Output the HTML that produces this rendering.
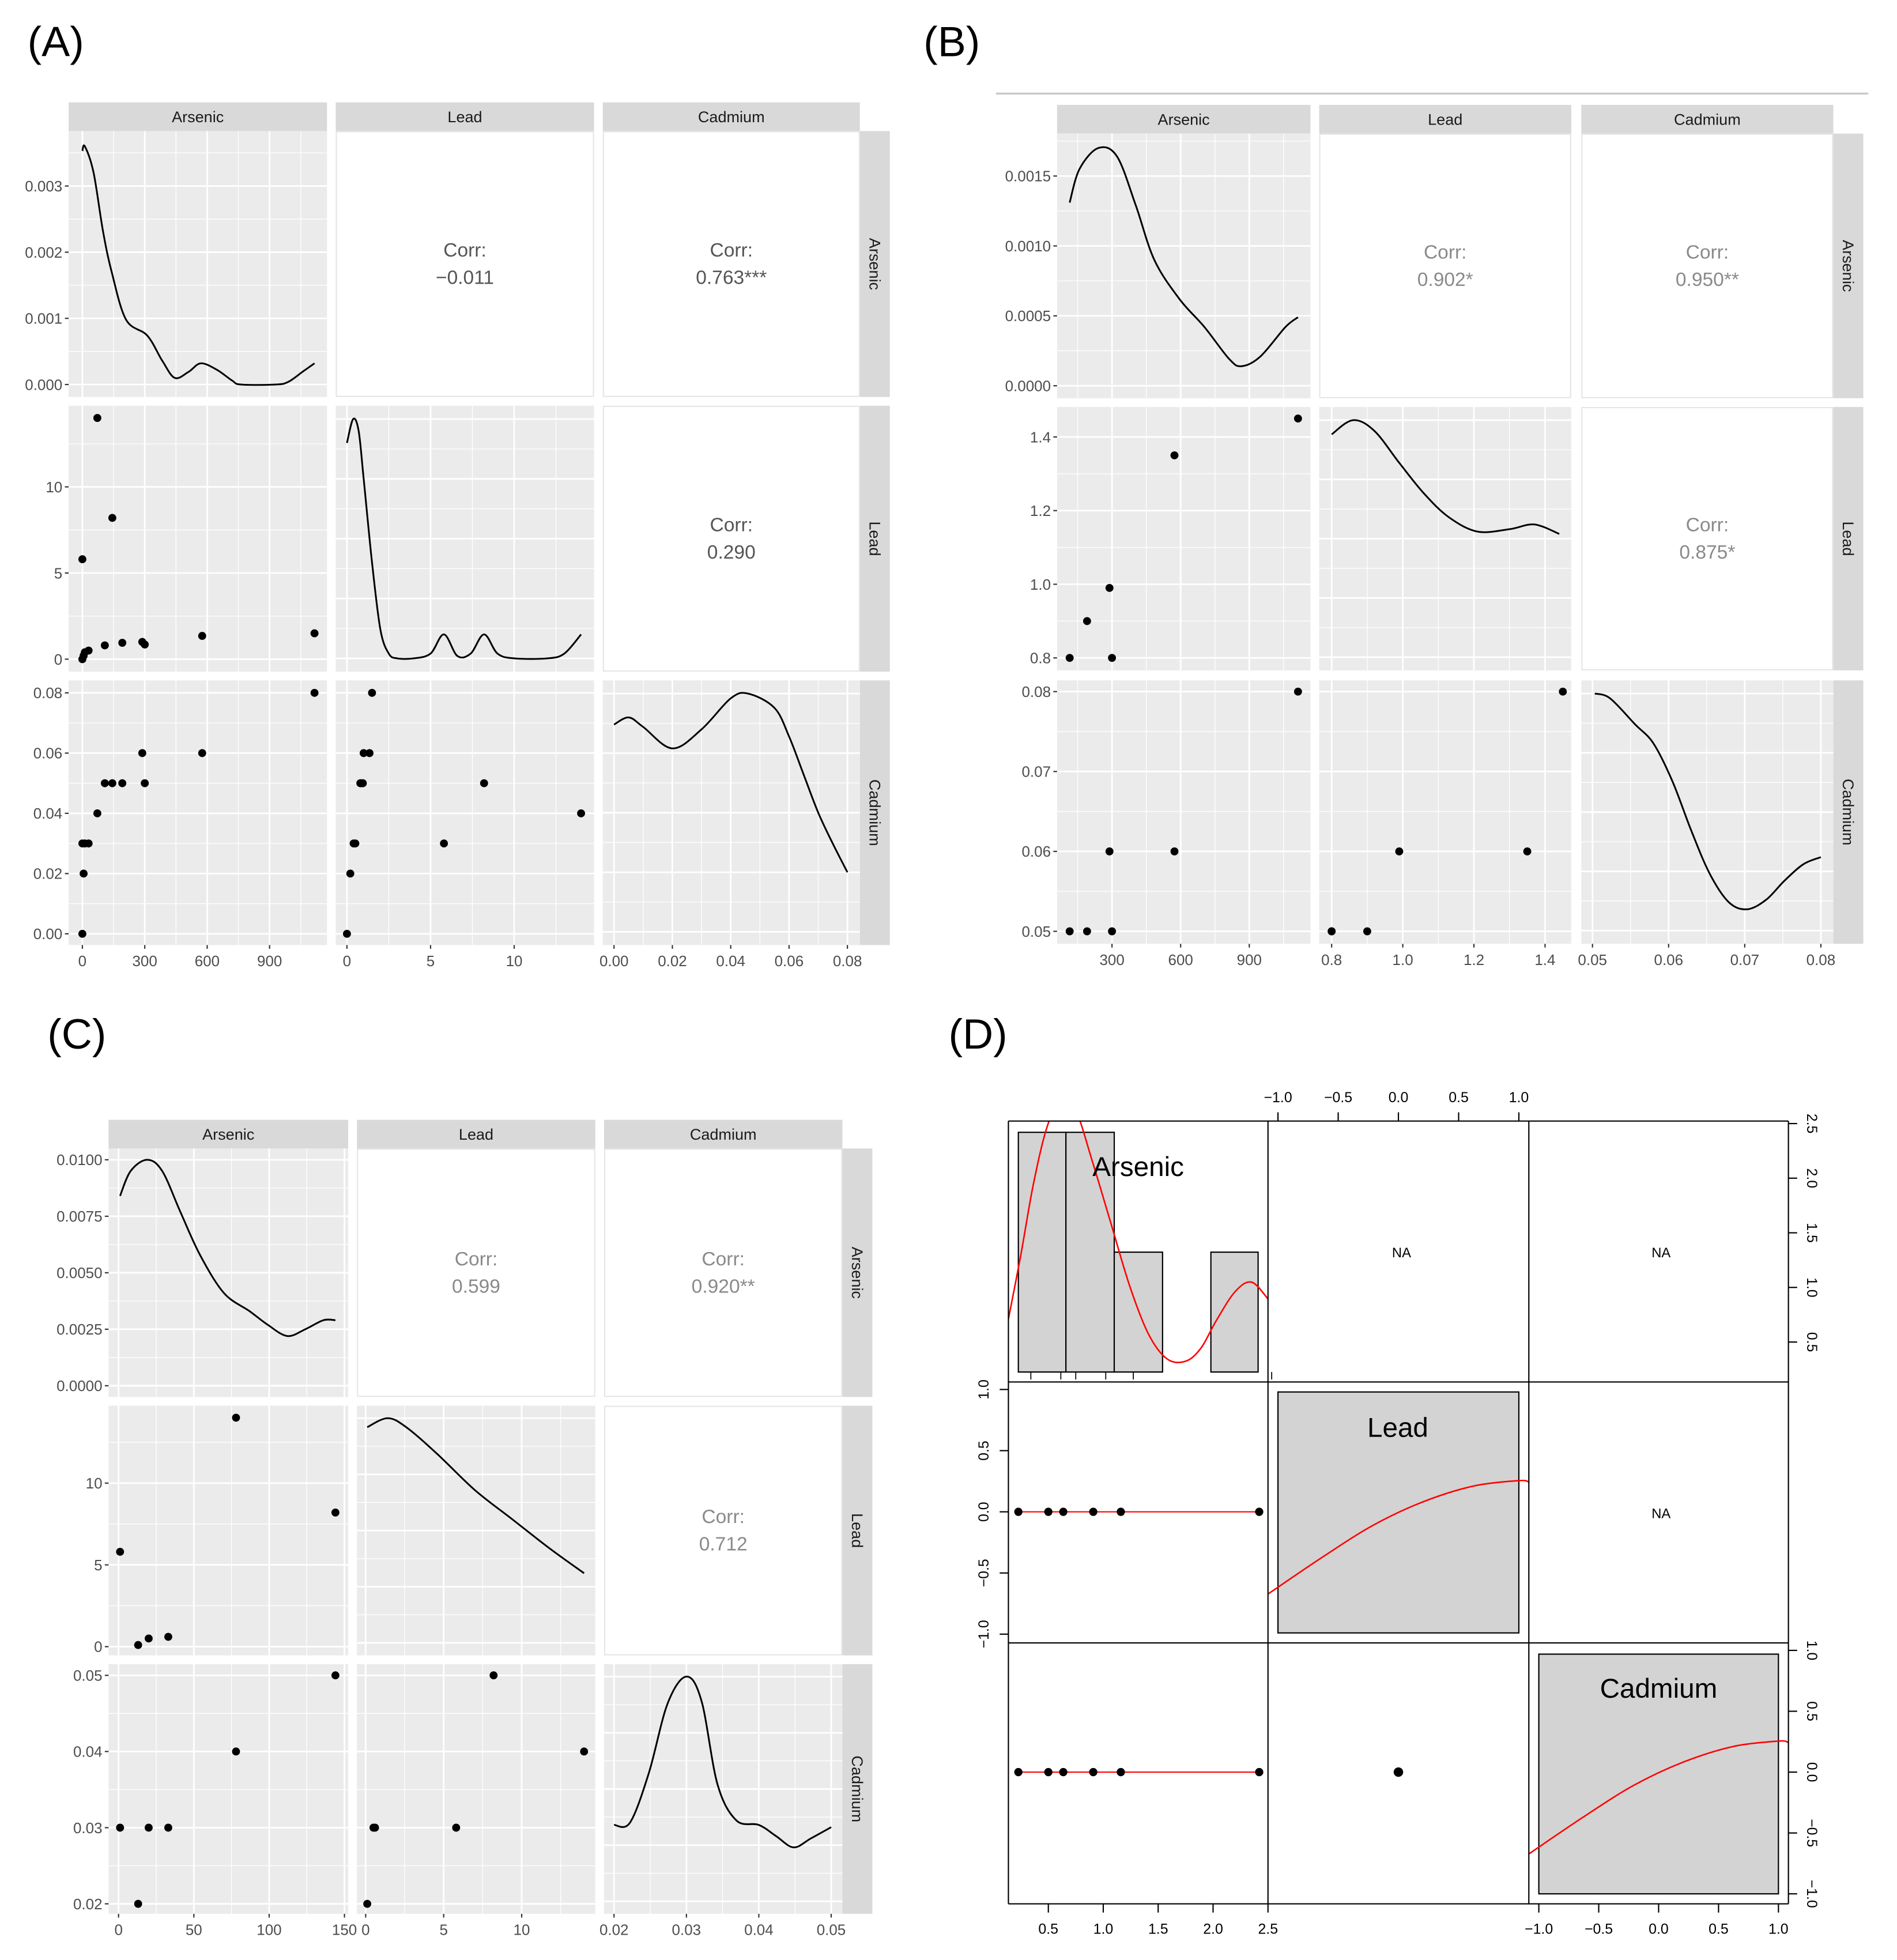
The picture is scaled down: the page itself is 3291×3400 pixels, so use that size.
<!DOCTYPE html>
<html><head><meta charset="utf-8">
<style>
html,body{margin:0;padding:0;background:#fff;}
svg{display:block;font-family:"Liberation Sans",Arial,sans-serif;}
</style></head>
<body>
<svg id="fig" xmlns="http://www.w3.org/2000/svg" width="3291" height="3400" viewBox="0 0 1520 1570" preserveAspectRatio="none">
<rect x="0" y="0" width="1520" height="1570" fill="#fff"/>
<text x="22" y="45" font-size="34">(A)</text>
<text x="740" y="45" font-size="34">(B)</text>
<text x="38" y="840" font-size="34">(C)</text>
<text x="760" y="840" font-size="34">(D)</text>
<line x1="798" y1="75" x2="1497" y2="75" stroke="#c8c8c8" stroke-width="1.5"/>
</svg>
<script>
// ---------- DATA ----------
const varNames = ["Arsenic","Lead","Cadmium"];
// Panel A
const A_arsenic = [72,144,0,0,1116,576,288,300,192,108,6,30,12];
const A_lead    = [14,8.2,5.8,0,1.5,1.35,1.0,0.85,0.95,0.8,0.2,0.5,0.4];
const A_cadmium = [0.04,0.05,0.03,0.0,0.08,0.06,0.06,0.05,0.05,0.05,0.02,0.03,0.03];
const A_densAs_x = [0,12,54,99,141,210,312,384,444,510,570,648,720,762,930,990,1062,1116];
const A_densAs_y = [0.00353,0.0036,0.0032,0.00232,0.0017,0.00098,0.00074,0.00036,0.0001,0.00019,0.00032,0.00022,0.00006,0,0,0.00004,0.0002,0.00032];
const A_densPb_x = [0,0.37,0.7,1,1.5,2,2.5,3,4,5,5.8,6.6,7.4,8.2,9,10,12,13,14];
const A_densPb_y = [0.9,1.0,0.95,0.75,0.4,0.12,0.02,0,0,0.02,0.1,0.01,0.02,0.1,0.02,0,0,0.02,0.1];
const A_densCd_x = [0,0.005,0.01,0.02,0.03,0.04,0.046,0.055,0.06,0.065,0.07,0.075,0.08];
const A_densCd_y = [0.87,0.9,0.86,0.77,0.85,0.98,1.0,0.94,0.82,0.66,0.5,0.37,0.25];
const A_corr = ["-0.011","0.763***","0.290"];
// Panel B
const B_arsenic = [115,191,289,300,573,1113];
const B_lead    = [0.8,0.9,0.99,0.8,1.35,1.45];
const B_cadmium = [0.05,0.05,0.06,0.05,0.06,0.08];
const B_densAs_x = [115,158,240,322,404,485,595,704,813,867,949,1058,1113];
const B_densAs_y = [0.00131,0.00155,0.0017,0.00164,0.00129,0.0009,0.00062,0.00042,0.00019,0.00014,0.00021,0.00042,0.00049];
const B_densPb_x = [0.8,0.86,0.92,0.99,1.06,1.13,1.21,1.30,1.37,1.44];
const B_densPb_y = [0.94,1.0,0.955,0.82,0.69,0.59,0.53,0.54,0.56,0.52];
const B_densCd_x = [0.0503,0.0523,0.0556,0.058,0.0605,0.063,0.0654,0.0679,0.0703,0.0728,0.0752,0.0777,0.08];
const B_densCd_y = [1.0,0.98,0.87,0.79,0.63,0.42,0.24,0.12,0.09,0.13,0.21,0.28,0.31];
const B_corr = ["0.902*","0.950**","0.875*"];
// Panel C
const C_arsenic = [1,13,20,33,78,144];
const C_lead    = [5.8,0.1,0.5,0.6,14,8.2];
const C_cadmium = [0.03,0.02,0.03,0.03,0.04,0.05];
const C_densAs_x = [1,8,19,29,41,54,70,87,99,112,124,136,144];
const C_densAs_y = [0.0084,0.0095,0.0100,0.0095,0.0077,0.0058,0.0041,0.0033,0.0027,0.0022,0.0025,0.0029,0.0029];
const C_densPb_x = [0.1,1.4,2.6,4.6,7,9.4,11.8,14];
const C_densPb_y = [0.96,1.0,0.96,0.84,0.68,0.55,0.42,0.31];
const C_densCd_x = [0.02,0.0222,0.0248,0.0274,0.03,0.0321,0.0343,0.0369,0.04,0.0424,0.0448,0.0472,0.05];
const C_densCd_y = [0.34,0.35,0.57,0.88,1.0,0.89,0.52,0.36,0.34,0.29,0.24,0.28,0.33];
const C_corr = ["0.599","0.920**","0.712"];
// Panel D
const D_arsenic = [0.227,0.5,0.636,0.909,1.16,2.42];
const D_zero = [0,0,0,0,0,0];
const D_histBreaks = [0.227,0.66,1.1,1.54,1.98,2.41];
const D_histCounts = [2,2,1,0,1];
const D_densX = [0.136,0.25,0.36,0.48,0.61,0.75,0.90,1.07,1.24,1.41,1.58,1.75,1.89,2.03,2.2,2.35,2.5];
const D_densY = [0.44,0.98,1.55,2.02,2.28,2.18,1.76,1.24,0.72,0.32,0.11,0.09,0.2,0.43,0.67,0.75,0.61];
const D_leadCurveX = [-1.08,-0.63,-0.21,0.2,0.62,1.0,1.08];
const D_leadCurveY = [-0.67,-0.37,-0.11,0.08,0.21,0.255,0.245];
const D_cdCurveX = [-1.08,-0.63,-0.21,0.2,0.62,1.0,1.08];
const D_cdCurveY = [-0.67,-0.37,-0.11,0.08,0.21,0.255,0.245];
const D_cellTicks = ["-1.0","-0.5","0.0","0.5","1.0"];
const D_cellTickVals = [-1,-0.5,0,0.5,1];
const D_asTickVals = [0.5,1,1.5,2,2.5];
const D_asTicks = ["0.5","1.0","1.5","2.0","2.5"];

// ---------- HELPERS ----------
const NS = "http://www.w3.org/2000/svg";
const svg = document.getElementById("fig");
function mk(tag, attrs, parent){ const e=document.createElementNS(NS,tag); for(const k in attrs) e.setAttribute(k, attrs[k]); (parent||svg).appendChild(e); return e; }
function lin(d0,p0,d1,p1){ const s=(p1-p0)/(d1-d0); const f=v=>p0+(v-d0)*s; f.inv=p=>d0+(p-p0)/s; return f; }
function pathFrom(xs, ys, fx, fy){ let d=""; for(let i=0;i<xs.length;i++){ d+=(i?"L":"M")+fx(xs[i]).toFixed(2)+","+fy(ys[i]).toFixed(2); } return d; }
function smoothPath(xs, ys, fx, fy){
  const P=xs.map((x,i)=>[fx(x),fy(ys[i])]);
  let d="M"+P[0][0].toFixed(2)+","+P[0][1].toFixed(2);
  for(let i=0;i<P.length-1;i++){
    const p0=P[i-1]||P[i], p1=P[i], p2=P[i+1], p3=P[i+2]||P[i+1];
    const c1=[p1[0]+(p2[0]-p0[0])/6, p1[1]+(p2[1]-p0[1])/6];
    const c2=[p2[0]-(p3[0]-p1[0])/6, p2[1]-(p3[1]-p1[1])/6];
    d+="C"+c1[0].toFixed(2)+","+c1[1].toFixed(2)+" "+c2[0].toFixed(2)+","+c2[1].toFixed(2)+" "+p2[0].toFixed(2)+","+p2[1].toFixed(2);
  }
  return d;
}

function drawGG(cfg){
  const g = mk("g",{});
  
  
  const n=3;
  // strips top
  for(let j=0;j<n;j++){
    const [x0,x1]=cfg.cols[j];
    const r=mk("rect",{x:x0,y:cfg.rows[0][0]-23,width:x1-x0,height:23,fill:"#d9d9d9"},g);
    
    
    const t=mk("text",{x:(x0+x1)/2,y:cfg.rows[0][0]-7,"font-size":12.5,"text-anchor":"middle",fill:"#1a1a1a"},g);
    t.textContent=varNames[j];
    
    
  }
  const xr=cfg.cols[2][1];
  for(let i=0;i<n;i++){
    const [y0,y1]=cfg.rows[i];
    const r=mk("rect",{x:xr,y:y0,width:24,height:y1-y0,fill:"#d9d9d9"},g);
    
    
    const cx=xr+12, cy=(y0+y1)/2;
    const t=mk("text",{x:cx,y:cy,"font-size":12.5,"text-anchor":"middle",fill:"#1a1a1a",transform:`rotate(90 ${cx} ${cy})`,dy:"0.35em"},g);
    t.textContent=varNames[i];
    
    
  }
  for(let i=0;i<n;i++){
    for(let j=0;j<n;j++){
      const [x0,x1]=cfg.cols[j], [y0,y1]=cfg.rows[i];
      const pg=mk("g",{},g);
      
      
      if(j>i){
        mk("rect",{x:x0+0.5,y:y0+0.5,width:x1-x0-1,height:y1-y0-1,fill:"#fff",stroke:"#e6e6e6","stroke-width":1},pg);
        const k = (i===0&&j===1)?0:(i===0?1:2);
        const cx=(x0+x1)/2, cy=(y0+y1)/2;
        const t1=mk("text",{x:cx,y:cy-6,"font-size":15.5,"text-anchor":"middle",fill:cfg.corrColor},pg);
        t1.textContent="Corr:";
        
        
        const t2=mk("text",{x:cx,y:cy+16,"font-size":15.5,"text-anchor":"middle",fill:cfg.corrColor},pg);
        t2.textContent=cfg.corr[k].replace("-","\u2212");
        
        
        continue;
      }
      mk("rect",{x:x0,y:y0,width:x1-x0,height:y1-y0,fill:"#ebebeb"},pg);
      const fx=cfg.xs[j];
      const fy = (i===j && i>0) ? lin(0,y1-0.05*(y1-y0),1,y0+0.05*(y1-y0)) : cfg.ys[i];
      const xt=cfg.xt[j];
      const yt=(i===j && i>0) ? [0,0.25,0.5,0.75,1] : cfg.yt[i];
      // grid
      const gridV=(ticks, minor)=>{
        const step=ticks[1]-ticks[0];
        const lo=fx.inv(x0), hi=fx.inv(x1);
        for(let v=ticks[0]-step*6; v<=hi+1e-9; v+=step/2){
          if(v<lo) continue;
          const isMajor=Math.abs(((v-ticks[0])/step)-Math.round((v-ticks[0])/step))<1e-6;
          mk("line",{x1:fx(v),x2:fx(v),y1:y0,y2:y1,stroke:"#fff","stroke-width":isMajor?1.3:0.6},pg);
        }
      };
      const gridH=(ticks)=>{
        const step=ticks[1]-ticks[0];
        const lo=Math.min(fy.inv(y0),fy.inv(y1)), hi=Math.max(fy.inv(y0),fy.inv(y1));
        for(let v=ticks[0]-step*6; v<=hi+1e-9; v+=step/2){
          if(v<lo) continue;
          const isMajor=Math.abs(((v-ticks[0])/step)-Math.round((v-ticks[0])/step))<1e-6;
          mk("line",{x1:x0,x2:x1,y1:fy(v),y2:fy(v),stroke:"#fff","stroke-width":isMajor?1.3:0.6},pg);
        }
      };
      gridV(xt); gridH(yt);
      if(i===j){
        const D=cfg.dens[i];
        const p=mk("path",{d:smoothPath(D[0],D[1],fx,fy),fill:"none",stroke:"#000","stroke-width":1.4},pg);
        
        
      } else {
        const X=cfg.data[j], Y=cfg.data[i];
        for(let k=0;k<X.length;k++){
          const c=mk("circle",{cx:fx(X[k]),cy:fy(Y[k]),r:3.2,fill:"#000"},pg);
          
          
        }
      }
    }
  }
  // left axis
  for(let i=0;i<n;i++){
    const fy=cfg.ys[i], x0=cfg.cols[0][0];
    cfg.yt[i].forEach((v,k)=>{
      mk("line",{x1:x0-3,x2:x0,y1:fy(v),y2:fy(v),stroke:"#333","stroke-width":1},g);
      const t=mk("text",{x:x0-5,y:fy(v)+4.3,"font-size":12,"text-anchor":"end",fill:"#4d4d4d"},g);
      t.textContent=cfg.yl[i][k];
      
      
    });
  }
  // bottom axis
  const yb=cfg.rows[2][1];
  for(let j=0;j<n;j++){
    const fx=cfg.xs[j];
    cfg.xt[j].forEach((v,k)=>{
      mk("line",{x1:fx(v),x2:fx(v),y1:yb,y2:yb+3,stroke:"#333","stroke-width":1},g);
      const t=mk("text",{x:fx(v),y:yb+17,"font-size":12,"text-anchor":"middle",fill:"#4d4d4d"},g);
      t.textContent=cfg.xl[j][k];
      
      
    });
  }
}

// ---------- PANEL A ----------
drawGG({
  name:"panel-a",
  cols:[[55,262],[269,476],[483,689]], rows:[[105,318],[325,538],[545,757]],
  xs:[lin(0,66,900,216), lin(0,278,10,412), lin(0,492,0.08,679)],
  xt:[[0,300,600,900],[0,5,10],[0,0.02,0.04,0.06,0.08]],
  xl:[["0","300","600","900"],["0","5","10"],["0.00","0.02","0.04","0.06","0.08"]],
  ys:[lin(0,308,0.003,149), lin(0,528,10,390), lin(0,748,0.08,555)],
  yt:[[0,0.001,0.002,0.003],[0,5,10],[0,0.02,0.04,0.06,0.08]],
  yl:[["0.000","0.001","0.002","0.003"],["0","5","10"],["0.00","0.02","0.04","0.06","0.08"]],
  data:[A_arsenic,A_lead,A_cadmium],
  dens:[[A_densAs_x,A_densAs_y],[A_densPb_x,A_densPb_y],[A_densCd_x,A_densCd_y]],
  corr:A_corr, corrColor:"#555"
});
// ---------- PANEL B ----------
drawGG({
  name:"panel-b",
  cols:[[847,1050],[1057,1259],[1267,1469]], rows:[[107,319],[326,537],[545,756]],
  xs:[lin(300,891,900,1001), lin(0.8,1067,1.4,1238), lin(0.05,1276,0.08,1459)],
  xt:[[300,600,900],[0.8,1.0,1.2,1.4],[0.05,0.06,0.07,0.08]],
  xl:[["300","600","900"],["0.8","1.0","1.2","1.4"],["0.05","0.06","0.07","0.08"]],
  ys:[lin(0,309,0.0015,141), lin(0.8,527,1.4,350), lin(0.05,746,0.08,554)],
  yt:[[0,0.0005,0.001,0.0015],[0.8,1.0,1.2,1.4],[0.05,0.06,0.07,0.08]],
  yl:[["0.0000","0.0005","0.0010","0.0015"],["0.8","1.0","1.2","1.4"],["0.05","0.06","0.07","0.08"]],
  data:[B_arsenic,B_lead,B_cadmium],
  dens:[[B_densAs_x,B_densAs_y],[B_densPb_x,B_densPb_y],[B_densCd_x,B_densCd_y]],
  corr:B_corr, corrColor:"#8a8a8a"
});
// ---------- PANEL C ----------
drawGG({
  name:"panel-c",
  cols:[[87,279],[286,477],[484,675]], rows:[[920,1119],[1126,1326],[1333,1533]],
  xs:[lin(0,95,150,276), lin(0,293,10,418), lin(0.02,492,0.05,666)],
  xt:[[0,50,100,150],[0,5,10],[0.02,0.03,0.04,0.05]],
  xl:[["0","50","100","150"],["0","5","10"],["0.02","0.03","0.04","0.05"]],
  ys:[lin(0,1110,0.01,929), lin(0,1319,10,1188), lin(0.02,1525,0.05,1342)],
  yt:[[0,0.0025,0.005,0.0075,0.01],[0,5,10],[0.02,0.03,0.04,0.05]],
  yl:[["0.0000","0.0025","0.0050","0.0075","0.0100"],["0","5","10"],["0.02","0.03","0.04","0.05"]],
  data:[C_arsenic,C_lead,C_cadmium],
  dens:[[C_densAs_x,C_densAs_y],[C_densPb_x,C_densPb_y],[C_densCd_x,C_densCd_y]],
  corr:C_corr, corrColor:"#8a8a8a"
});

// ---------- PANEL D ----------
(function(){
  const g=mk("g",{});
  
  
  const cx=[808,1016,1225,1433], cy=[898,1107,1316,1525];
  const fxAs=lin(0.5,840,2.5,1016);
  const fxC=[null, lin(-1,1024,1,1217), lin(-1,1233,1,1425)];
  const fyR=[null, lin(-1,1309,1,1113), lin(-1,1517,1,1322)];
  const fyHist=lin(0,1099,2,907);
  const clip=mk("clipPath",{id:"c11"},g); mk("rect",{x:808,y:898,width:208,height:209},clip);
  // histogram
  for(let k=0;k<D_histCounts.length;k++){
    if(D_histCounts[k]===0) continue;
    const x0=fxAs(D_histBreaks[k]), x1=fxAs(D_histBreaks[k+1]);
    const r=mk("rect",{x:x0,y:fyHist(D_histCounts[k]),width:x1-x0,height:fyHist(0)-fyHist(D_histCounts[k]),fill:"#d3d3d3",stroke:"#000","stroke-width":1},g);
    
    
  }
  // rug
  D_arsenic.forEach(v=>{ mk("line",{x1:fxAs(v)+10,x2:fxAs(v)+10,y1:1099,y2:1105,stroke:"#000","stroke-width":0.8},g); });
  const dp=mk("path",{d:smoothPath(D_densX,D_densY,fxAs,fyHist),fill:"none",stroke:"#ff0000","stroke-width":1.2,"clip-path":"url(#c11)"},g);
  
  
  const t1=mk("text",{x:912,y:942,"font-size":22,"text-anchor":"middle"},g); t1.textContent="Arsenic";
  
  
  // lead box
  const b2=mk("rect",{x:1024,y:1115,width:193,height:193,fill:"#d3d3d3",stroke:"#000","stroke-width":1},g);
  
  
  const lp=mk("path",{d:smoothPath(D_leadCurveX,D_leadCurveY,fxC[1],fyR[1]),fill:"none",stroke:"#ff0000","stroke-width":1.2},g);
  
  
  const t2=mk("text",{x:1120,y:1151,"font-size":22,"text-anchor":"middle"},g); t2.textContent="Lead";
  
  
  // cadmium box
  const b3=mk("rect",{x:1233,y:1325,width:192,height:192,fill:"#d3d3d3",stroke:"#000","stroke-width":1},g);
  
  
  const cp=mk("path",{d:smoothPath(D_cdCurveX,D_cdCurveY,fxC[2],fyR[2]),fill:"none",stroke:"#ff0000","stroke-width":1.2},g);
  
  
  const t3=mk("text",{x:1329,y:1360,"font-size":22,"text-anchor":"middle"},g); t3.textContent="Cadmium";
  
  
  // NA labels
  [[1123,1003],[1331,1003],[1331,1212]].forEach(p=>{
    const t=mk("text",{x:p[0],y:p[1]+4,"font-size":11,"text-anchor":"middle"},g); t.textContent="NA";
    
    
  });
  // scatter rows
  [[fyR[1],D_zero],[fyR[2],D_zero]].forEach((row)=>{
    const fy=row[0];
    const xsP=D_arsenic.map(fxAs);
    const ln=mk("line",{x1:Math.min(...xsP),x2:Math.max(...xsP),y1:fy(0),y2:fy(0),stroke:"#ff0000","stroke-width":1},g);
    
    
    D_arsenic.forEach((v,k)=>{
      const c=mk("circle",{cx:fxAs(v),cy:fy(row[1][k]),r:3.3,fill:"#000"},g);
      
      
    });
  });
  const cc=mk("circle",{cx:fxC[1](0),cy:fyR[2](0),r:3.8,fill:"#000"},g);
  
  
  // grid lines
  for(let k=0;k<4;k++){
    mk("line",{x1:cx[k],x2:cx[k],y1:898,y2:1525,stroke:"#000","stroke-width":1},g);
    mk("line",{x1:808,x2:1433,y1:cy[k],y2:cy[k],stroke:"#000","stroke-width":1},g);
  }
  // top axis (col2)
  D_cellTickVals.forEach((v,k)=>{
    mk("line",{x1:fxC[1](v),x2:fxC[1](v),y1:891,y2:898,stroke:"#000"},g);
    const t=mk("text",{x:fxC[1](v),y:883,"font-size":11.5,"text-anchor":"middle"},g); t.textContent=D_cellTicks[k].replace("-","\u2212");
    
    
  });
  // bottom axis col1
  D_asTickVals.forEach((v,k)=>{
    mk("line",{x1:fxAs(v),x2:fxAs(v),y1:1525,y2:1532,stroke:"#000"},g);
    const t=mk("text",{x:fxAs(v),y:1549,"font-size":11.5,"text-anchor":"middle"},g); t.textContent=D_asTicks[k];
    
    
  });
  // bottom axis col3
  D_cellTickVals.forEach((v,k)=>{
    mk("line",{x1:fxC[2](v),x2:fxC[2](v),y1:1525,y2:1532,stroke:"#000"},g);
    const t=mk("text",{x:fxC[2](v),y:1549,"font-size":11.5,"text-anchor":"middle"},g); t.textContent=D_cellTicks[k].replace("-","\u2212");
    
    
  });
  // right axis row1 (hist scale)
  const fyRight1=lin(0.5,1075,2.5,900);
  D_asTickVals.forEach((v,k)=>{
    const y=fyRight1(v);
    mk("line",{x1:1433,x2:1440,y1:y,y2:y,stroke:"#000"},g);
    const t=mk("text",{x:1452,y:y,"font-size":11.5,"text-anchor":"middle",transform:`rotate(90 1452 ${y})`,dy:"0.35em"},g); t.textContent=D_asTicks[k];
    
    
  });
  // left axis row2
  D_cellTickVals.forEach((v,k)=>{
    const y=fyR[1](v);
    mk("line",{x1:801,x2:808,y1:y,y2:y,stroke:"#000"},g);
    const t=mk("text",{x:788,y:y,"font-size":11.5,"text-anchor":"middle",transform:`rotate(-90 788 ${y})`,dy:"0.35em"},g); t.textContent=D_cellTicks[k].replace("-","\u2212");
    
    
  });
  // right axis row3
  D_cellTickVals.forEach((v,k)=>{
    const y=fyR[2](v);
    mk("line",{x1:1433,x2:1440,y1:y,y2:y,stroke:"#000"},g);
    const t=mk("text",{x:1452,y:y,"font-size":11.5,"text-anchor":"middle",transform:`rotate(90 1452 ${y})`,dy:"0.35em"},g); t.textContent=D_cellTicks[k].replace("-","\u2212");
    
    
  });
})();
</script>
</body></html>
